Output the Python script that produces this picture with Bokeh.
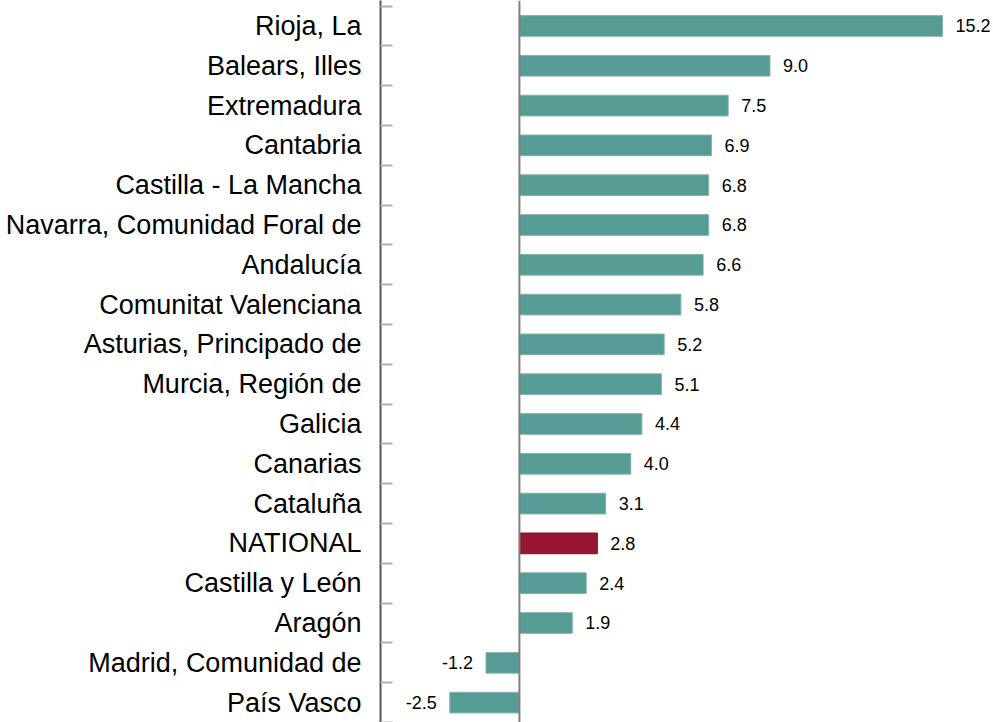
from bokeh.plotting import figure
from bokeh.models import ColumnDataSource, Range1d, FixedTicker, Span, LabelSet
from bokeh.core.properties import value
from bokeh.embed import file_html
from bokeh.resources import INLINE

regions = ["Rioja, La", "Balears, Illes", "Extremadura", "Cantabria",
           "Castilla - La Mancha", "Navarra, Comunidad Foral de", "Andalucía",
           "Comunitat Valenciana", "Asturias, Principado de", "Murcia, Región de",
           "Galicia", "Canarias", "Cataluña", "NATIONAL", "Castilla y León",
           "Aragón", "Madrid, Comunidad de", "País Vasco"]
values = [15.2, 9.0, 7.5, 6.9, 6.8, 6.8, 6.6, 5.8, 5.2, 5.1, 4.4, 4.0, 3.1,
          2.8, 2.4, 1.9, -1.2, -2.5]

TEAL = "#569b94"
RED = "#961632"

pos = list(range(len(regions)))
colors = [RED if r == "NATIONAL" else TEAL for r in regions]
outlines = ["#7a1026" if r == "NATIONAL" else "#86b3ad" for r in regions]
labels = ["%.1f" % v for v in values]
aligns = ["left" if v >= 0 else "right" for v in values]
offsets = [13 if v >= 0 else -13 for v in values]

src = ColumnDataSource(dict(y=pos, v=values, c=colors, lc=outlines, lab=labels,
                            al=aligns, off=offsets))

p = figure(width=993, height=722, output_backend="svg", toolbar_location=None,
           x_range=Range1d(-4.99, 17.03), y_range=Range1d(17.5, -0.64),
           min_border_left=380, min_border_right=0, min_border_top=0,
           min_border_bottom=0)
p.outline_line_color = None
p.xgrid.visible = False
p.ygrid.visible = False
p.xaxis.visible = False

p.hbar(y="y", left=0, right="v", height=0.52, fill_color="c", line_color="lc",
       line_width=1, source=src)

p.add_layout(Span(location=0, dimension="height", line_color="#808080",
                  line_width=2))

ax = p.yaxis[0]
ax.ticker = FixedTicker(ticks=pos, minor_ticks=[i - 0.5 for i in range(len(regions) + 1)])
ax.major_label_overrides = {i: r for i, r in enumerate(regions)}
ax.major_tick_line_color = None
ax.major_tick_in = 0
ax.major_tick_out = 0
ax.minor_tick_in = 12
ax.minor_tick_out = 0
ax.minor_tick_line_color = "#b0b0b0"
ax.minor_tick_line_width = 2
ax.axis_line_color = "#555555"
ax.axis_line_width = 2
ax.major_label_standoff = 19
ax.major_label_text_font = "Liberation Sans"
ax.major_label_text_font_size = "27px"
ax.major_label_text_color = "#000000"

p.add_layout(LabelSet(x="v", y="y", text="lab", source=src, x_offset="off",
                      text_align="al", text_baseline="middle",
                      text_font=value("Liberation Sans"), text_font_size="18px",
                      text_color="#000000"))

open("out.html", "w").write(file_html(p, INLINE))
